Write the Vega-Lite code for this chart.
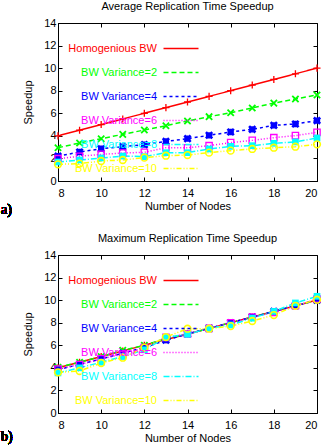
{
  "$schema": "https://vega.github.io/schema/vega-lite/v6.json",
  "background": "white",
  "padding": {"left": 0, "top": 0, "right": 0, "bottom": 0},
  "spacing": 14,
  "config": {
    "view": {"stroke": "black", "strokeWidth": 1},
    "font": "Liberation Sans",
    "axis": {"grid": false, "domainColor": "black", "tickColor": "black", "labelColor": "black", "titleColor": "black", "labelFont": "Liberation Sans", "titleFont": "Liberation Sans", "labelFontSize": 11, "titleFontSize": 11, "titleFontWeight": "normal", "tickSize": -4, "labelPadding": 6},
    "title": {"font": "Liberation Sans", "fontSize": 11, "fontWeight": "normal", "color": "black", "offset": 5}
  },
  "datasets": {
    "avg": [
      {"nodes": 8, "series": "Homogenious BW", "speedup": 4}, {"nodes": 9, "series": "Homogenious BW", "speedup": 4.5}, {"nodes": 10, "series": "Homogenious BW", "speedup": 5}, {"nodes": 11, "series": "Homogenious BW", "speedup": 5.5}, {"nodes": 12, "series": "Homogenious BW", "speedup": 6}, {"nodes": 13, "series": "Homogenious BW", "speedup": 6.5}, {"nodes": 14, "series": "Homogenious BW", "speedup": 7}, {"nodes": 15, "series": "Homogenious BW", "speedup": 7.5}, {"nodes": 16, "series": "Homogenious BW", "speedup": 8}, {"nodes": 17, "series": "Homogenious BW", "speedup": 8.5}, {"nodes": 18, "series": "Homogenious BW", "speedup": 9}, {"nodes": 19, "series": "Homogenious BW", "speedup": 9.5}, {"nodes": 20, "series": "Homogenious BW", "speedup": 10},
      {"nodes": 8, "series": "BW Variance=2", "speedup": 2.95}, {"nodes": 9, "series": "BW Variance=2", "speedup": 3.37}, {"nodes": 10, "series": "BW Variance=2", "speedup": 3.75}, {"nodes": 11, "series": "BW Variance=2", "speedup": 4.13}, {"nodes": 12, "series": "BW Variance=2", "speedup": 4.52}, {"nodes": 13, "series": "BW Variance=2", "speedup": 4.9}, {"nodes": 14, "series": "BW Variance=2", "speedup": 5.32}, {"nodes": 15, "series": "BW Variance=2", "speedup": 5.7}, {"nodes": 16, "series": "BW Variance=2", "speedup": 6.05}, {"nodes": 17, "series": "BW Variance=2", "speedup": 6.47}, {"nodes": 18, "series": "BW Variance=2", "speedup": 6.9}, {"nodes": 19, "series": "BW Variance=2", "speedup": 7.27}, {"nodes": 20, "series": "BW Variance=2", "speedup": 7.62},
      {"nodes": 8, "series": "BW Variance=4", "speedup": 2.2}, {"nodes": 9, "series": "BW Variance=4", "speedup": 2.57}, {"nodes": 10, "series": "BW Variance=4", "speedup": 2.86}, {"nodes": 11, "series": "BW Variance=4", "speedup": 3.04}, {"nodes": 12, "series": "BW Variance=4", "speedup": 3.22}, {"nodes": 13, "series": "BW Variance=4", "speedup": 3.51}, {"nodes": 14, "series": "BW Variance=4", "speedup": 3.75}, {"nodes": 15, "series": "BW Variance=4", "speedup": 4.05}, {"nodes": 16, "series": "BW Variance=4", "speedup": 4.34}, {"nodes": 17, "series": "BW Variance=4", "speedup": 4.58}, {"nodes": 18, "series": "BW Variance=4", "speedup": 4.93}, {"nodes": 19, "series": "BW Variance=4", "speedup": 5.05}, {"nodes": 20, "series": "BW Variance=4", "speedup": 5.35},
      {"nodes": 8, "series": "BW Variance=6", "speedup": 1.98}, {"nodes": 9, "series": "BW Variance=6", "speedup": 2.19}, {"nodes": 10, "series": "BW Variance=6", "speedup": 2.36}, {"nodes": 11, "series": "BW Variance=6", "speedup": 2.48}, {"nodes": 12, "series": "BW Variance=6", "speedup": 2.54}, {"nodes": 13, "series": "BW Variance=6", "speedup": 2.95}, {"nodes": 14, "series": "BW Variance=6", "speedup": 2.95}, {"nodes": 15, "series": "BW Variance=6", "speedup": 3.13}, {"nodes": 16, "series": "BW Variance=6", "speedup": 3.4}, {"nodes": 17, "series": "BW Variance=6", "speedup": 3.6}, {"nodes": 18, "series": "BW Variance=6", "speedup": 3.84}, {"nodes": 19, "series": "BW Variance=6", "speedup": 4.02}, {"nodes": 20, "series": "BW Variance=6", "speedup": 4.31},
      {"nodes": 8, "series": "BW Variance=8", "speedup": 1.68}, {"nodes": 9, "series": "BW Variance=8", "speedup": 1.86}, {"nodes": 10, "series": "BW Variance=8", "speedup": 2.04}, {"nodes": 11, "series": "BW Variance=8", "speedup": 2.21}, {"nodes": 12, "series": "BW Variance=8", "speedup": 2.16}, {"nodes": 13, "series": "BW Variance=8", "speedup": 2.51}, {"nodes": 14, "series": "BW Variance=8", "speedup": 2.51}, {"nodes": 15, "series": "BW Variance=8", "speedup": 2.84}, {"nodes": 16, "series": "BW Variance=8", "speedup": 3.07}, {"nodes": 17, "series": "BW Variance=8", "speedup": 3.13}, {"nodes": 18, "series": "BW Variance=8", "speedup": 3.34}, {"nodes": 19, "series": "BW Variance=8", "speedup": 3.46}, {"nodes": 20, "series": "BW Variance=8", "speedup": 3.81},
      {"nodes": 8, "series": "BW Variance=10", "speedup": 1.48}, {"nodes": 9, "series": "BW Variance=10", "speedup": 1.54}, {"nodes": 10, "series": "BW Variance=10", "speedup": 1.77}, {"nodes": 11, "series": "BW Variance=10", "speedup": 1.86}, {"nodes": 12, "series": "BW Variance=10", "speedup": 2.07}, {"nodes": 13, "series": "BW Variance=10", "speedup": 2.24}, {"nodes": 14, "series": "BW Variance=10", "speedup": 2.3}, {"nodes": 15, "series": "BW Variance=10", "speedup": 2.51}, {"nodes": 16, "series": "BW Variance=10", "speedup": 2.69}, {"nodes": 17, "series": "BW Variance=10", "speedup": 2.84}, {"nodes": 18, "series": "BW Variance=10", "speedup": 2.95}, {"nodes": 19, "series": "BW Variance=10", "speedup": 3.04}, {"nodes": 20, "series": "BW Variance=10", "speedup": 3.25}
    ],
    "max": [
      {"nodes": 8, "series": "Homogenious BW", "speedup": 4}, {"nodes": 9, "series": "Homogenious BW", "speedup": 4.5}, {"nodes": 10, "series": "Homogenious BW", "speedup": 5}, {"nodes": 11, "series": "Homogenious BW", "speedup": 5.5}, {"nodes": 12, "series": "Homogenious BW", "speedup": 6}, {"nodes": 13, "series": "Homogenious BW", "speedup": 6.5}, {"nodes": 14, "series": "Homogenious BW", "speedup": 7}, {"nodes": 15, "series": "Homogenious BW", "speedup": 7.5}, {"nodes": 16, "series": "Homogenious BW", "speedup": 8}, {"nodes": 17, "series": "Homogenious BW", "speedup": 8.5}, {"nodes": 18, "series": "Homogenious BW", "speedup": 9}, {"nodes": 19, "series": "Homogenious BW", "speedup": 9.5}, {"nodes": 20, "series": "Homogenious BW", "speedup": 10},
      {"nodes": 8, "series": "BW Variance=2", "speedup": 4.05}, {"nodes": 9, "series": "BW Variance=2", "speedup": 4.5}, {"nodes": 10, "series": "BW Variance=2", "speedup": 5.0}, {"nodes": 11, "series": "BW Variance=2", "speedup": 5.55}, {"nodes": 12, "series": "BW Variance=2", "speedup": 6.0}, {"nodes": 13, "series": "BW Variance=2", "speedup": 6.6}, {"nodes": 14, "series": "BW Variance=2", "speedup": 7.0}, {"nodes": 15, "series": "BW Variance=2", "speedup": 7.5}, {"nodes": 16, "series": "BW Variance=2", "speedup": 8.0}, {"nodes": 17, "series": "BW Variance=2", "speedup": 8.5}, {"nodes": 18, "series": "BW Variance=2", "speedup": 9.0}, {"nodes": 19, "series": "BW Variance=2", "speedup": 9.5}, {"nodes": 20, "series": "BW Variance=2", "speedup": 10.0},
      {"nodes": 8, "series": "BW Variance=4", "speedup": 3.85}, {"nodes": 9, "series": "BW Variance=4", "speedup": 4.3}, {"nodes": 10, "series": "BW Variance=4", "speedup": 4.8}, {"nodes": 11, "series": "BW Variance=4", "speedup": 5.3}, {"nodes": 12, "series": "BW Variance=4", "speedup": 5.8}, {"nodes": 13, "series": "BW Variance=4", "speedup": 6.45}, {"nodes": 14, "series": "BW Variance=4", "speedup": 7.0}, {"nodes": 15, "series": "BW Variance=4", "speedup": 7.5}, {"nodes": 16, "series": "BW Variance=4", "speedup": 8.0}, {"nodes": 17, "series": "BW Variance=4", "speedup": 8.5}, {"nodes": 18, "series": "BW Variance=4", "speedup": 9.0}, {"nodes": 19, "series": "BW Variance=4", "speedup": 9.5}, {"nodes": 20, "series": "BW Variance=4", "speedup": 10.0},
      {"nodes": 8, "series": "BW Variance=6", "speedup": 3.9}, {"nodes": 9, "series": "BW Variance=6", "speedup": 4.3}, {"nodes": 10, "series": "BW Variance=6", "speedup": 4.8}, {"nodes": 11, "series": "BW Variance=6", "speedup": 5.2}, {"nodes": 12, "series": "BW Variance=6", "speedup": 5.8}, {"nodes": 13, "series": "BW Variance=6", "speedup": 6.7}, {"nodes": 14, "series": "BW Variance=6", "speedup": 7.0}, {"nodes": 15, "series": "BW Variance=6", "speedup": 7.5}, {"nodes": 16, "series": "BW Variance=6", "speedup": 8.0}, {"nodes": 17, "series": "BW Variance=6", "speedup": 8.5}, {"nodes": 18, "series": "BW Variance=6", "speedup": 8.9}, {"nodes": 19, "series": "BW Variance=6", "speedup": 9.5}, {"nodes": 20, "series": "BW Variance=6", "speedup": 10.1},
      {"nodes": 8, "series": "BW Variance=8", "speedup": 3.55}, {"nodes": 9, "series": "BW Variance=8", "speedup": 4.0}, {"nodes": 10, "series": "BW Variance=8", "speedup": 4.5}, {"nodes": 11, "series": "BW Variance=8", "speedup": 5.0}, {"nodes": 12, "series": "BW Variance=8", "speedup": 5.6}, {"nodes": 13, "series": "BW Variance=8", "speedup": 6.7}, {"nodes": 14, "series": "BW Variance=8", "speedup": 6.97}, {"nodes": 15, "series": "BW Variance=8", "speedup": 7.5}, {"nodes": 16, "series": "BW Variance=8", "speedup": 7.8}, {"nodes": 17, "series": "BW Variance=8", "speedup": 8.4}, {"nodes": 18, "series": "BW Variance=8", "speedup": 9.0}, {"nodes": 19, "series": "BW Variance=8", "speedup": 9.75}, {"nodes": 20, "series": "BW Variance=8", "speedup": 10.34},
      {"nodes": 8, "series": "BW Variance=10", "speedup": 3.6}, {"nodes": 9, "series": "BW Variance=10", "speedup": 3.72}, {"nodes": 10, "series": "BW Variance=10", "speedup": 4.43}, {"nodes": 11, "series": "BW Variance=10", "speedup": 4.9}, {"nodes": 12, "series": "BW Variance=10", "speedup": 5.79}, {"nodes": 13, "series": "BW Variance=10", "speedup": 6.73}, {"nodes": 14, "series": "BW Variance=10", "speedup": 7.47}, {"nodes": 15, "series": "BW Variance=10", "speedup": 7.47}, {"nodes": 16, "series": "BW Variance=10", "speedup": 7.7}, {"nodes": 17, "series": "BW Variance=10", "speedup": 8.15}, {"nodes": 18, "series": "BW Variance=10", "speedup": 8.68}, {"nodes": 19, "series": "BW Variance=10", "speedup": 9.5}, {"nodes": 20, "series": "BW Variance=10", "speedup": 10.04}
    ]
  },
  "resolve": {"scale": {"stroke": "independent", "strokeDash": "independent"}, "legend": {"stroke": "independent"}},
  "vconcat": [
    {
      "title": "Average Replication Time Speedup",
      "width": 259,
      "height": 158,
      "data": {"name": "avg"},
      "resolve": {"axis": {"x": "independent", "y": "independent"}},
      "layer": [
        {
          "mark": {"type": "line", "strokeWidth": 1.5},
          "encoding": {
            "x": {"field": "nodes", "type": "quantitative", "scale": {"domain": [8, 20], "nice": false, "zero": false}, "axis": {"values": [8, 10, 12, 14, 16, 18, 20], "title": "Number of Nodes", "titlePadding": 2, "labelPadding": 10}},
            "y": {"field": "speedup", "type": "quantitative", "scale": {"domain": [0, 14], "nice": false}, "axis": {"values": [0, 2, 4, 6, 8, 10, 12, 14], "title": "Speedup", "titlePadding": 10}},
            "stroke": {"field": "series", "type": "nominal", "scale": {"domain": ["Homogenious BW", "BW Variance=2", "BW Variance=4", "BW Variance=6", "BW Variance=8", "BW Variance=10"], "range": ["#ff0000", "#00ff00", "#0000ff", "#ff00ff", "#00ffff", "#ffff00"]},
              "legend": {"orient": "none", "legendX": 0, "legendY": 7, "title": null, "symbolType": "M-1,0L1,0", "symbolSize": 100, "symbolStrokeWidth": 1.5, "labelFont": "Liberation Sans", "labelFontSize": 11, "rowPadding": 0, "padding": 0, "labelLimit": 200,
                "encode": {
                  "labels": {"update": {"x": {"value": 99}, "align": {"value": "right"}, "fill": {"signal": "['#ff0000','#00ff00','#0000ff','#ff00ff','#00ffff','#ffff00'][indexof(['Homogenious BW','BW Variance=2','BW Variance=4','BW Variance=6','BW Variance=8','BW Variance=10'], datum.value)]"}}},
                  "symbols": {"update": {"x": {"value": 123}, "shape": {"value": "M-1,0L1,0"}, "size": {"value": 1225}, "fill": {"value": "transparent"},
                    "strokeDash": {"signal": "[[1,0],[5,3],[3,3],[1,2],[6,2,1,2],[5,2,1,2,1,2]][indexof(['Homogenious BW','BW Variance=2','BW Variance=4','BW Variance=6','BW Variance=8','BW Variance=10'], datum.value)]"}}}
                }}},
            "strokeDash": {"field": "series", "type": "nominal", "legend": null, "scale": {"domain": ["Homogenious BW", "BW Variance=2", "BW Variance=4", "BW Variance=6", "BW Variance=8", "BW Variance=10"], "range": [[1, 0], [5, 3], [3, 3], [1, 2], [6, 2, 1, 2], [5, 2, 1, 2, 1, 2]]}}
          }
        },
        {
          "transform": [{"filter": "datum.series === 'Homogenious BW'"}],
          "mark": {"type": "point", "shape": "M-1,0L1,0M0,-1L0,1", "color": "#ff0000", "filled": false, "size": 50, "strokeWidth": 1.3, "opacity": 1},
          "encoding": {
            "x": {"field": "nodes", "type": "quantitative", "axis": {"orient": "top", "values": [8, 10, 12, 14, 16, 18, 20], "labels": false, "title": null, "domain": false}},
            "y": {"field": "speedup", "type": "quantitative", "axis": {"orient": "right", "values": [0, 2, 4, 6, 8, 10, 12, 14], "labels": false, "title": null, "domain": false}}
          }
        },
        {
          "transform": [{"filter": "datum.series === 'BW Variance=2'"}],
          "mark": {"type": "point", "shape": "M-1,-1L1,1M-1,1L1,-1", "color": "#00ff00", "filled": false, "size": 40, "strokeWidth": 1.8, "opacity": 1},
          "encoding": {"x": {"field": "nodes", "type": "quantitative", "axis": null}, "y": {"field": "speedup", "type": "quantitative", "axis": null}}
        },
        {
          "transform": [{"filter": "datum.series === 'BW Variance=4'"}],
          "mark": {"type": "point", "shape": "M-1,-1L1,1M-1,1L1,-1M-1,0L1,0M0,-1L0,1", "color": "#0000ff", "filled": false, "size": 40, "strokeWidth": 2.6, "opacity": 1},
          "encoding": {"x": {"field": "nodes", "type": "quantitative", "axis": null}, "y": {"field": "speedup", "type": "quantitative", "axis": null}}
        },
        {
          "transform": [{"filter": "datum.series === 'BW Variance=6'"}],
          "mark": {"type": "point", "shape": "square", "color": "#ff00ff", "filled": false, "size": 40, "strokeWidth": 1.3, "opacity": 1},
          "encoding": {"x": {"field": "nodes", "type": "quantitative", "axis": null}, "y": {"field": "speedup", "type": "quantitative", "axis": null}}
        },
        {
          "transform": [{"filter": "datum.series === 'BW Variance=8'"}],
          "mark": {"type": "point", "shape": "square", "color": "#00ffff", "filled": true, "size": 45, "opacity": 1},
          "encoding": {"x": {"field": "nodes", "type": "quantitative", "axis": null}, "y": {"field": "speedup", "type": "quantitative", "axis": null}}
        },
        {
          "transform": [{"filter": "datum.series === 'BW Variance=10'"}],
          "mark": {"type": "point", "shape": "circle", "color": "#ffff00", "filled": false, "size": 45, "strokeWidth": 1.6, "opacity": 1},
          "encoding": {"x": {"field": "nodes", "type": "quantitative", "axis": null}, "y": {"field": "speedup", "type": "quantitative", "axis": null}}
        },
        {
          "mark": {"type": "text", "text": "a)", "font": "Liberation Serif", "fontSize": 14, "align": "left", "baseline": "middle", "dx": -57, "dy": 29},
          "encoding": {"x": {"datum": 8, "axis": null}, "y": {"datum": 0, "axis": null}}
        }
      ]
    },
    {
      "title": "Maximum Replication Time Speedup",
      "width": 259,
      "height": 158,
      "data": {"name": "max"},
      "resolve": {"axis": {"x": "independent", "y": "independent"}},
      "layer": [
        {
          "mark": {"type": "line", "strokeWidth": 1.5},
          "encoding": {
            "x": {"field": "nodes", "type": "quantitative", "scale": {"domain": [8, 20], "nice": false, "zero": false}, "axis": {"values": [8, 10, 12, 14, 16, 18, 20], "title": "Number of Nodes", "titlePadding": 2, "labelPadding": 10}},
            "y": {"field": "speedup", "type": "quantitative", "scale": {"domain": [0, 14], "nice": false}, "axis": {"values": [0, 2, 4, 6, 8, 10, 12, 14], "title": "Speedup", "titlePadding": 10}},
            "stroke": {"field": "series", "type": "nominal", "scale": {"domain": ["Homogenious BW", "BW Variance=2", "BW Variance=4", "BW Variance=6", "BW Variance=8", "BW Variance=10"], "range": ["#ff0000", "#00ff00", "#0000ff", "#ff00ff", "#00ffff", "#ffff00"]},
              "legend": {"orient": "none", "legendX": 0, "legendY": 7, "title": null, "symbolType": "M-1,0L1,0", "symbolSize": 100, "symbolStrokeWidth": 1.5, "labelFont": "Liberation Sans", "labelFontSize": 11, "rowPadding": 0, "padding": 0, "labelLimit": 200,
                "encode": {
                  "labels": {"update": {"x": {"value": 99}, "align": {"value": "right"}, "fill": {"signal": "['#ff0000','#00ff00','#0000ff','#ff00ff','#00ffff','#ffff00'][indexof(['Homogenious BW','BW Variance=2','BW Variance=4','BW Variance=6','BW Variance=8','BW Variance=10'], datum.value)]"}}},
                  "symbols": {"update": {"x": {"value": 123}, "shape": {"value": "M-1,0L1,0"}, "size": {"value": 1225}, "fill": {"value": "transparent"},
                    "strokeDash": {"signal": "[[1,0],[5,3],[3,3],[1,2],[6,2,1,2],[5,2,1,2,1,2]][indexof(['Homogenious BW','BW Variance=2','BW Variance=4','BW Variance=6','BW Variance=8','BW Variance=10'], datum.value)]"}}}
                }}},
            "strokeDash": {"field": "series", "type": "nominal", "legend": null, "scale": {"domain": ["Homogenious BW", "BW Variance=2", "BW Variance=4", "BW Variance=6", "BW Variance=8", "BW Variance=10"], "range": [[1, 0], [5, 3], [3, 3], [1, 2], [6, 2, 1, 2], [5, 2, 1, 2, 1, 2]]}}
          }
        },
        {
          "transform": [{"filter": "datum.series === 'Homogenious BW'"}],
          "mark": {"type": "point", "shape": "M-1,0L1,0M0,-1L0,1", "color": "#ff0000", "filled": false, "size": 50, "strokeWidth": 1.3, "opacity": 1},
          "encoding": {
            "x": {"field": "nodes", "type": "quantitative", "axis": {"orient": "top", "values": [8, 10, 12, 14, 16, 18, 20], "labels": false, "title": null, "domain": false}},
            "y": {"field": "speedup", "type": "quantitative", "axis": {"orient": "right", "values": [0, 2, 4, 6, 8, 10, 12, 14], "labels": false, "title": null, "domain": false}}
          }
        },
        {
          "transform": [{"filter": "datum.series === 'BW Variance=2'"}],
          "mark": {"type": "point", "shape": "M-1,-1L1,1M-1,1L1,-1", "color": "#00ff00", "filled": false, "size": 40, "strokeWidth": 1.8, "opacity": 1},
          "encoding": {"x": {"field": "nodes", "type": "quantitative", "axis": null}, "y": {"field": "speedup", "type": "quantitative", "axis": null}}
        },
        {
          "transform": [{"filter": "datum.series === 'BW Variance=4'"}],
          "mark": {"type": "point", "shape": "M-1,-1L1,1M-1,1L1,-1M-1,0L1,0M0,-1L0,1", "color": "#0000ff", "filled": false, "size": 40, "strokeWidth": 2.6, "opacity": 1},
          "encoding": {"x": {"field": "nodes", "type": "quantitative", "axis": null}, "y": {"field": "speedup", "type": "quantitative", "axis": null}}
        },
        {
          "transform": [{"filter": "datum.series === 'BW Variance=6'"}],
          "mark": {"type": "point", "shape": "square", "color": "#ff00ff", "filled": false, "size": 40, "strokeWidth": 1.3, "opacity": 1},
          "encoding": {"x": {"field": "nodes", "type": "quantitative", "axis": null}, "y": {"field": "speedup", "type": "quantitative", "axis": null}}
        },
        {
          "transform": [{"filter": "datum.series === 'BW Variance=8'"}],
          "mark": {"type": "point", "shape": "square", "color": "#00ffff", "filled": true, "size": 45, "opacity": 1},
          "encoding": {"x": {"field": "nodes", "type": "quantitative", "axis": null}, "y": {"field": "speedup", "type": "quantitative", "axis": null}}
        },
        {
          "transform": [{"filter": "datum.series === 'BW Variance=10'"}],
          "mark": {"type": "point", "shape": "circle", "color": "#ffff00", "filled": false, "size": 45, "strokeWidth": 1.6, "opacity": 1},
          "encoding": {"x": {"field": "nodes", "type": "quantitative", "axis": null}, "y": {"field": "speedup", "type": "quantitative", "axis": null}}
        },
        {
          "mark": {"type": "text", "text": "b)", "font": "Liberation Serif", "fontSize": 14, "align": "left", "baseline": "middle", "dx": -57, "dy": 24},
          "encoding": {"x": {"datum": 8, "axis": null}, "y": {"datum": 0, "axis": null}}
        }
      ]
    }
  ]
}
